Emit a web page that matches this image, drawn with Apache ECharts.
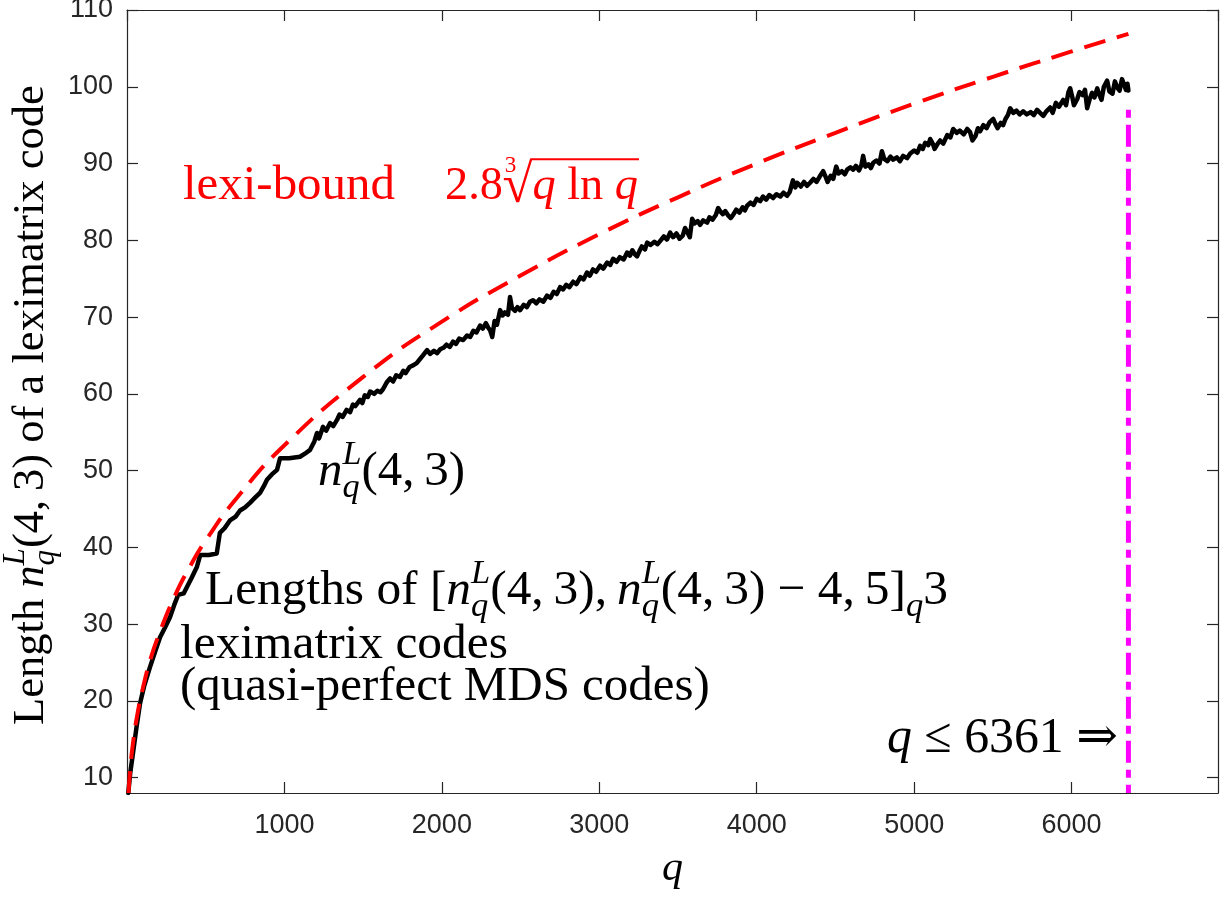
<!DOCTYPE html>
<html><head><meta charset="utf-8">
<script src="https://cdn.jsdelivr.net/npm/echarts@6/dist/echarts.min.js"></script>
<style>html,body{margin:0;padding:0;background:#fff}#c{width:1220px;height:897px}</style>
</head><body><div id="c"></div>
<script>
// ---- data ----
const lengthPoints = [[8,8],[20,10.5],[38,13.2],[60,16.5],[83,19.7],[110,22],[146,24.4],[180,26.5],[210,28.3],[240,29.5],[273,30.9],[300,32.5],[325,33.8],[360,34],[380,34.8],[410,36],[443,37.4],[465,39],[520,39],[570,39.2],[590,41.9],[620,42.5],[654,43.5],[690,44],[718,44.8],[750,45.2],[781,45.8],[815,46.5],[845,47.1],[870,48],[889,48.8],[920,49.5],[953,50.1],[972,51.6],[1030,51.6],[1099,51.8],[1130,52.2],[1163,52.7],[1190,53.8],[1207,54.9],[1220,54.2],[1245,55.7],[1265,55.2],[1290,56.2],[1310,55.8],[1334,56.6],[1350,57.3],[1370,57.0],[1395,57.9],[1417,57.6],[1435,58.6],[1450,58.4],[1480,59.2],[1495,58.8],[1510,59.8],[1530,59.6],[1544,60.3],[1570,60.0],[1590,60.4],[1610,60.2],[1626,60.6],[1650,61.5],[1671,62.0],[1690,61.6],[1710,62.4],[1734,62.2],[1755,63.0],[1770,62.7],[1795,63.5],[1817,63.7],[1840,64.0],[1860,64.5],[1880,65.0],[1906,65.7],[1925,65.2],[1950,65.6],[1970,65.3],[1989,65.8],[2010,66.0],[2030,66.4],[2050,66.1],[2071,66.8],[2090,66.5],[2110,67.2],[2135,67.0],[2160,67.6],[2180,67.4],[2200,68.2],[2220,68.0],[2243,68.9],[2260,68.5],[2280,69.2],[2295,68.6],[2306,68.3],[2320,67.4],[2335,69.5],[2350,69.0],[2370,70.9],[2385,70.2],[2400,70.6],[2420,70.3],[2433,72.6],[2445,71.2],[2465,70.8],[2480,71.3],[2497,70.9],[2520,71.6],[2540,71.3],[2560,72.0],[2579,72.2],[2600,71.8],[2620,72.3],[2645,72.0],[2668,72.8],[2690,72.5],[2710,73.3],[2730,73.0],[2751,73.9],[2770,73.6],[2790,74.2],[2810,73.9],[2834,74.6],[2855,74.3],[2880,75.2],[2900,74.9],[2922,75.8],[2940,75.4],[2960,76.2],[2980,75.9],[3005,76.7],[3025,76.3],[3050,77.1],[3070,76.8],[3088,77.6],[3110,77.2],[3130,77.8],[3155,77.5],[3177,78.4],[3195,78.0],[3210,78.7],[3225,78.2],[3240,77.9],[3255,78.6],[3270,79.2],[3290,78.8],[3304,79.7],[3325,79.4],[3350,79.8],[3370,79.5],[3386,79.9],[3410,80.5],[3430,80.1],[3450,81.0],[3469,80.4],[3490,80.9],[3510,80.2],[3530,80.6],[3545,81.6],[3558,81.1],[3575,80.4],[3590,82.8],[3605,82.2],[3625,82.5],[3640,82.0],[3660,82.6],[3685,82.3],[3700,83.0],[3720,82.7],[3740,83.3],[3755,84.2],[3767,83.8],[3785,83.4],[3800,83.8],[3820,83.2],[3835,82.9],[3850,83.3],[3870,84.0],[3890,83.6],[3910,84.3],[3925,83.9],[3939,84.5],[3960,84.9],[3980,84.6],[4000,85.4],[4022,85.1],[4040,85.7],[4060,85.3],[4080,85.9],[4104,85.5],[4125,86.0],[4150,85.7],[4170,86.2],[4193,85.8],[4210,86.3],[4230,87.8],[4245,86.9],[4257,87.5],[4280,87.0],[4300,87.6],[4320,87.1],[4339,87.5],[4360,88.0],[4380,87.6],[4400,88.3],[4422,89.0],[4435,88.4],[4450,87.6],[4470,88.4],[4486,88.0],[4505,89.6],[4520,88.7],[4540,89.0],[4560,88.6],[4574,89.2],[4595,89.5],[4613,89.2],[4630,89.7],[4650,89.1],[4665,89.8],[4676,91.0],[4690,89.6],[4710,89.9],[4725,89.4],[4740,90.1],[4760,90.4],[4780,90.0],[4795,91.6],[4810,90.6],[4830,90.3],[4850,90.9],[4867,90.5],[4890,90.8],[4910,90.3],[4930,91.0],[4955,90.7],[4975,91.3],[5000,91.7],[5020,91.4],[5038,92.3],[5055,91.9],[5070,92.7],[5090,92.4],[5102,93.2],[5120,92.5],[5130,91.9],[5150,92.6],[5165,93.0],[5185,92.6],[5210,93.7],[5230,93.4],[5248,94.5],[5270,94.0],[5290,94.3],[5315,93.8],[5337,94.5],[5355,94.1],[5370,93.0],[5390,93.6],[5405,94.6],[5419,94.2],[5440,95.0],[5460,94.6],[5480,95.4],[5502,95.8],[5515,95.2],[5530,94.6],[5550,95.3],[5565,95.0],[5580,95.8],[5595,96.3],[5610,97.2],[5630,96.6],[5650,96.9],[5670,96.4],[5692,96.8],[5715,96.4],[5740,96.7],[5760,96.3],[5781,97.0],[5800,96.6],[5820,96.2],[5840,96.8],[5864,97.3],[5880,96.6],[5900,97.9],[5920,97.4],[5947,98.3],[5965,97.6],[5980,99.3],[5991,99.8],[6005,98.6],[6015,97.6],[6036,98.4],[6050,99.3],[6070,98.9],[6085,99.6],[6099,97.2],[6115,98.4],[6130,99.2],[6145,98.6],[6163,99.8],[6175,99.0],[6190,98.3],[6205,100.0],[6226,100.8],[6240,99.4],[6260,99.1],[6275,100.7],[6290,99.9],[6305,99.5],[6320,101.0],[6335,100.2],[6345,99.6],[6355,100.4],[6361,99.5]];
const boundPoints = [[10,8.0],[20,11.0],[40,14.8],[70,18.7],[100,21.6],[150,25.5],[200,28.5],[300,33.5],[400,37.5],[500,40.9],[700,46.5],[1000,53.3],[1500,62.2],[2000,69.4],[2500,75.4],[3000,80.8],[3500,85.6],[4000,90.0],[4500,94.0],[5000,97.8],[5500,101.3],[6000,104.6],[6361,106.9]];
const limitQ = 6361;
const limitSpan = [97, 8];
const xTicks = [1000,2000,3000,4000,5000,6000];
const yTicks = [10,20,30,40,50,60,70,80,90,100,110];
const xRange = [0, 6930];
const yRange = [8, 110];

// ---- math-like text helpers ----
const SERIF = 'Liberation Serif, DejaVu Serif, serif';
const ctx = document.createElement('canvas').getContext('2d');
function fstr(size, it){ return (it ? 'italic ' : '') + size + 'px ' + SERIF; }
function measure(t, size, it){ ctx.font = fstr(size, it); ctx.textBaseline = 'alphabetic'; return ctx.measureText(t).width; }
function midOff(size, it){ ctx.font = fstr(size, it); ctx.textBaseline = 'middle'; const m = ctx.measureText('x'); ctx.textBaseline = 'alphabetic'; return m.actualBoundingBoxDescent; }
function ascentOf(t, size){ ctx.font = fstr(size, false); ctx.textBaseline = 'alphabetic'; return ctx.measureText(t).actualBoundingBoxAscent; }
function layout(pieces, S){
  let x = 0; const out = []; let b0 = null, b1 = null, rad = null;
  for (const p of pieces){
    if (p.stack){
      let w = 0;
      for (const q of p.stack){ const sz = S*(q.s||1); out.push({t:q.t, it:q.it, size:sz, x:x, dy:(q.dy||0)*S}); w = Math.max(w, measure(q.t, sz, q.it)); }
      x += w; continue;
    }
    x += (p.kern||0)*S;
    const sz = S*(p.s||1);
    const w = measure(p.t, sz, p.it);
    if (p.bar){ if (b0 === null) b0 = x; b1 = x + w; }
    if (p.rad) rad = {size:sz, dy:(p.dy||0)*S};
    out.push({t:p.t, it:p.it, size:sz, x:x, dy:(p.dy||0)*S});
    x += w;
  }
  return {out, width:x, b0, b1, rad};
}
function mathLabel(spec){
  const S0 = 40;
  const S = S0*spec.w/layout(spec.pieces, S0).width;
  const L = layout(spec.pieces, S);
  const children = L.out.map(e => ({
    type:'text', x:e.x, y:e.dy - midOff(e.size, e.it),
    style:{text:e.t, fontSize:e.size, fontFamily:SERIF, fontStyle:e.it?'italic':'normal', fill:spec.color, align:'left', verticalAlign:'middle'}
  }));
  if (L.b0 !== null){
    const by = L.rad.dy - ascentOf('\u221A', L.rad.size) + 1.5;
    children.push({type:'line', shape:{x1:L.b0 - 2, y1:by, x2:L.b1 + 1, y2:by}, style:{stroke:spec.color, lineWidth:Math.max(1.5, S*0.045)}});
  }
  return {type:'group', x:spec.x, y:spec.y, rotation:spec.rot||0, silent:true, children};
}
const nqL = [{t:'n', it:1}, {stack:[{t:'L', it:1, s:0.7, dy:-0.42}, {t:'q', it:1, s:0.7, dy:0.24}]}];
const labels = [
  {x:183, y:199, w:212, color:'#ff0000', pieces:[{t:'lexi-bound'}]},
  {x:445, y:199, w:193, color:'#ff0000', pieces:[{t:'2.8'}, {t:'3', s:0.5, dy:-0.58, kern:0.04}, {t:'\u221A', s:1.18, dy:0.06, kern:-0.3, rad:1}, {t:'q', it:1, bar:1}, {t:' ln ', bar:1}, {t:'q', it:1, bar:1}]},
  {x:318, y:485, w:147, color:'#000', pieces:[...nqL, {t:'(4,\u20093)'}]},
  {x:205, y:604, w:743, color:'#000', pieces:[{t:'Lengths of ['}, ...nqL, {t:'(4,\u20093),\u2009'}, ...nqL, {t:'(4,\u20093) \u2212 4,\u20095]'}, {t:'q', it:1, s:0.7, dy:0.24}, {t:'3'}]},
  {x:180, y:658, w:328, color:'#000', pieces:[{t:'leximatrix codes'}]},
  {x:180, y:700, w:530, color:'#000', pieces:[{t:'(quasi-perfect MDS codes)'}]},
  {x:887, y:752, w:231, color:'#000', pieces:[{t:'q', it:1}, {t:' \u2264 6361 \u21D2'}]},
  {x:662, y:880, w:21, color:'#000', pieces:[{t:'q', it:1}]},
  {x:43, y:725, w:640, color:'#000', rot:Math.PI/2, pieces:[{t:'Length '}, ...nqL, {t:'(4,\u20093) of a leximatrix code'}]}
];

const axisCol = '#262626';
const tickFont = {fontFamily:'Liberation Sans, Arial, sans-serif', fontSize:27, color:axisCol};
const chart = echarts.init(document.getElementById('c'), null, {renderer:'canvas'});
chart.setOption({
  animation:false,
  backgroundColor:'#fff',
  grid:{left:127, right:2, top:10, bottom:104, outerBoundsMode:'none', containLabel:false},
  xAxis:[
    {type:'value', min:xRange[0], max:xRange[1], interval:1000, position:'bottom',
     axisLine:{show:true, onZero:false, lineStyle:{color:axisCol, width:1.2}},
     axisTick:{show:true, inside:true, length:11, lineStyle:{color:axisCol, width:1.2}},
     axisLabel:{...tickFont, margin:19, showMaxLabel:false, showMinLabel:false, formatter:v => xTicks.includes(v) ? String(v) : ''},
     splitLine:{show:false}},
    {type:'value', min:xRange[0], max:xRange[1], interval:1000, position:'top',
     axisLine:{show:true, onZero:false, lineStyle:{color:axisCol, width:1.2}},
     axisTick:{show:true, inside:true, length:11, lineStyle:{color:axisCol, width:1.2}},
     axisLabel:{show:false}, splitLine:{show:false}}
  ],
  yAxis:[
    {type:'value', min:yRange[0], max:yRange[1], position:'left',
     axisLine:{show:true, onZero:false, lineStyle:{color:axisCol, width:1.2}},
     axisTick:{show:true, inside:true, length:11, customValues:yTicks, lineStyle:{color:axisCol, width:1.2}},
     axisLabel:{...tickFont, margin:14, customValues:yTicks},
     splitLine:{show:false}},
    {type:'value', min:yRange[0], max:yRange[1], position:'right',
     axisLine:{show:true, onZero:false, lineStyle:{color:axisCol, width:1.2}},
     axisTick:{show:true, inside:true, length:11, customValues:yTicks, lineStyle:{color:axisCol, width:1.2}},
     axisLabel:{show:false}, splitLine:{show:false}}
  ],
  series:[
    {type:'line', name:'n', data:lengthPoints, showSymbol:false, symbol:'none', lineStyle:{color:'#000', width:4.5, join:'round', cap:'round'}, z:2},
    {type:'line', name:'bound', data:boundPoints, smooth:true, showSymbol:false, symbol:'none', lineStyle:{color:'#ff0000', width:4, type:[22,12]}, z:3},
    {type:'line', name:'limit', data:limitSpan.map(v => [limitQ, v]), showSymbol:false, symbol:'none', lineStyle:{color:'#ff00ff', width:5, type:[8,7,22,7]}, z:4}
  ],
  graphic: labels.map(mathLabel)
});
</script>
</body></html>
